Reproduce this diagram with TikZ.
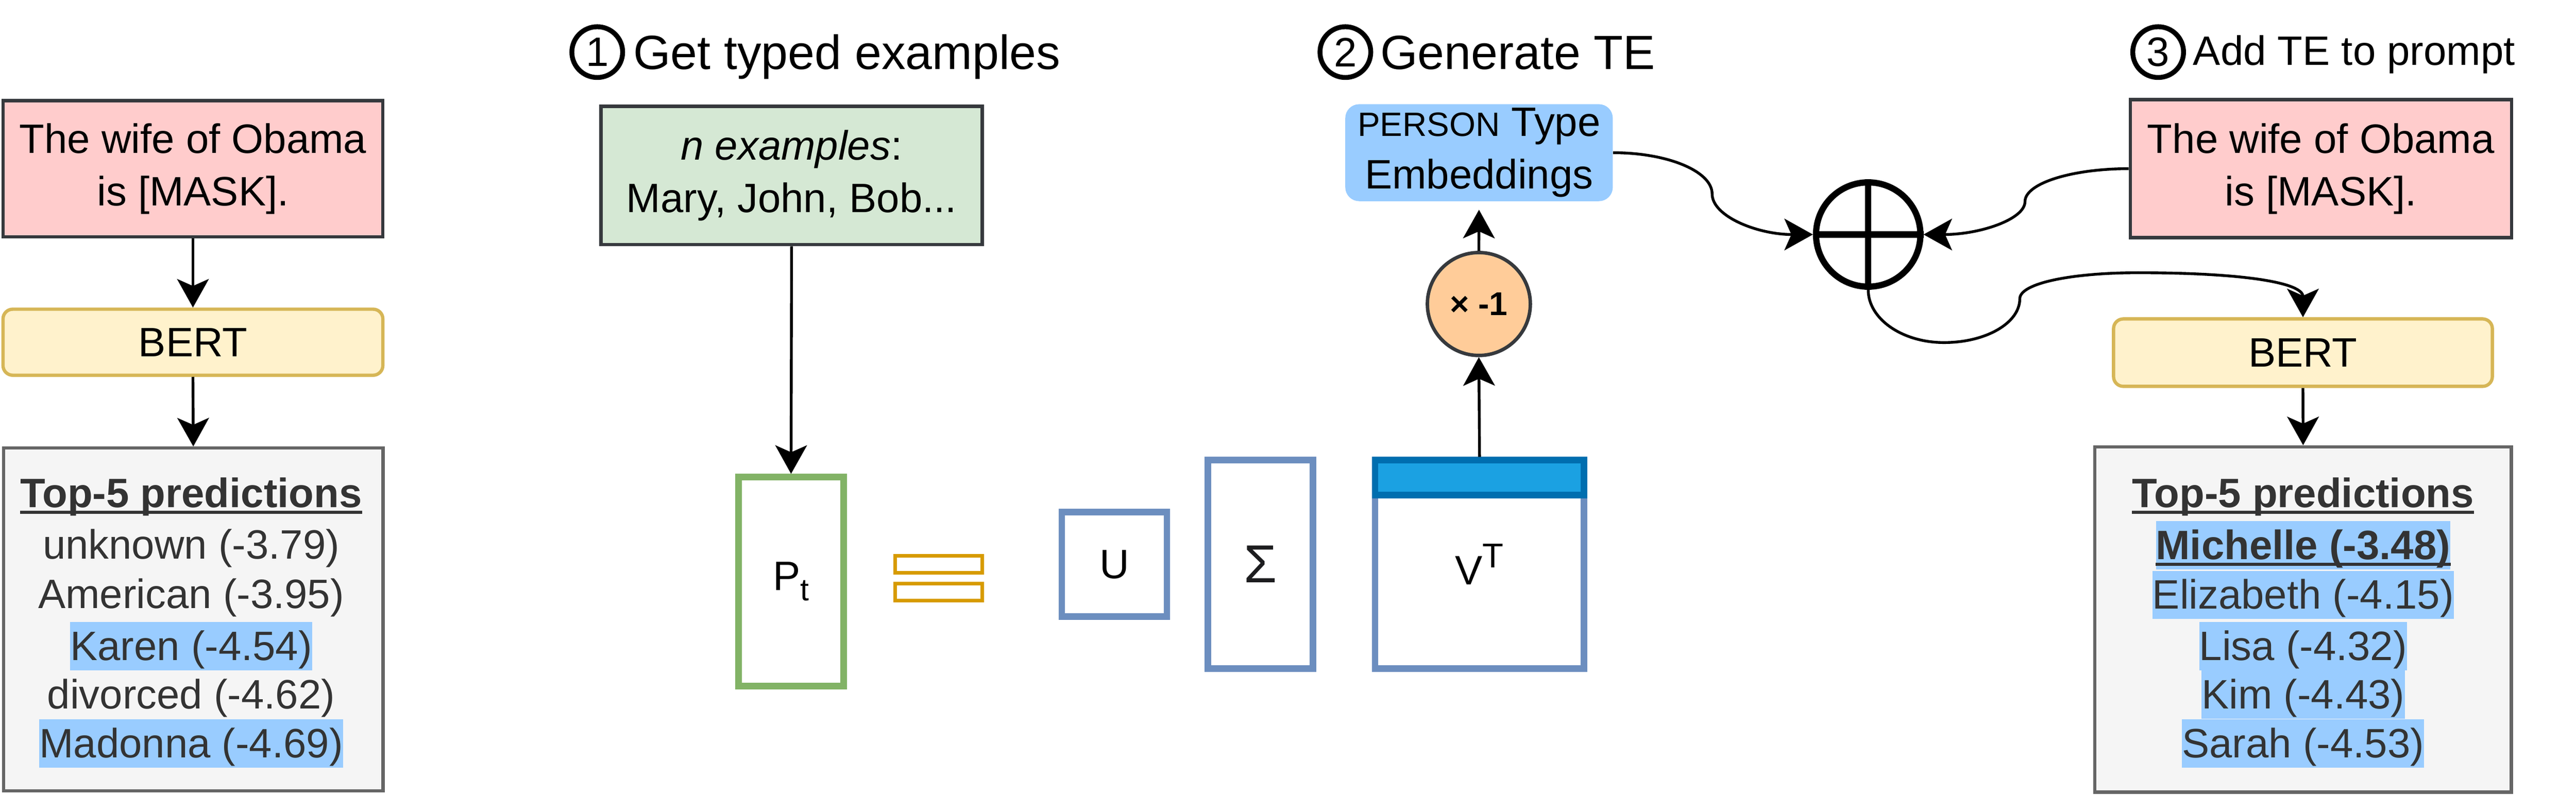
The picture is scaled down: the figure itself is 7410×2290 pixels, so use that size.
\documentclass[tikz,border=0pt]{standalone}
\usepackage{fontspec}
\setmainfont{Liberation Sans}
\usetikzlibrary{arrows.meta}
\definecolor{pinkf}{HTML}{FFCCCC}
\definecolor{dkline}{HTML}{36393D}
\definecolor{bertf}{HTML}{FFF2CC}
\definecolor{bertl}{HTML}{D6B656}
\definecolor{grayf}{HTML}{F5F5F5}
\definecolor{grayl}{HTML}{666666}
\definecolor{txtg}{HTML}{333333}
\definecolor{greenf}{HTML}{D5E8D4}
\definecolor{greenl}{HTML}{82B366}
\definecolor{orangel}{HTML}{D79B00}
\definecolor{bluel}{HTML}{6C8EBF}
\definecolor{bandf}{HTML}{1BA1E2}
\definecolor{bandl}{HTML}{006EAF}
\definecolor{hl}{HTML}{99CCFF}
\definecolor{negf}{HTML}{FFCC99}
\definecolor{sig}{HTML}{1D1D1F}
\newcommand{\fsMain}{\fontsize{33.6pt}{43pt}\selectfont}
\newcommand{\fsTitle}{\fontsize{39.3pt}{47pt}\selectfont}
\tikzset{
  box/.style={draw=dkline, line width=0.095cm, inner sep=0pt, align=center, font=\fsMain},
  prompt/.style={box, fill=pinkf, minimum width=10.92cm, minimum height=3.92cm},
  bert/.style={box, draw=bertl, fill=bertf, rounded corners=0.28cm, minimum width=10.92cm, minimum height=1.9cm},
  predbox/.style={box, draw=grayl, fill=grayf},
  pline/.style={inner sep=0pt, anchor=base, text height=1.10cm, text depth=0.29cm, text=txtg, font=\fsMain},
  hlline/.style={pline, fill=hl},
  mat/.style={draw=bluel, line width=0.19cm, fill=white, inner sep=0pt, font=\fsMain},
  conn/.style={line width=0.08cm, -{Stealth[length=0.82cm, width=0.91cm, inset=0.2cm]}},
  num/.style={circle, draw, line width=0.14cm, minimum size=1.46cm, inner sep=0pt, font=\fsMain},
  ttl/.style={anchor=base west, inner sep=0pt, font=\fsTitle},
  ulin/.style={line width=0.09cm, draw=txtg}
}
\begin{document}
\begin{tikzpicture}[x=0.01cm, y=-0.01cm]
\useasboundingbox (0,0) rectangle (7410,2290);

% ---------- left column ----------
\node[prompt] (p1) at (555,486) {The wife of Obama\\is [MASK].};
\node[bert] (b1) at (555,985) {BERT};
\node[predbox, minimum width=10.91cm, minimum height=9.86cm] (top1) at (556,1783) {};
\node[pline, font=\fsMain\bfseries] (l0) at (550,1460) {Top-5 predictions};
\node[pline] (l1) at (550,1609) {unknown (-3.79)};
\node[pline] (l2) at (550,1751) {American (-3.95)};
\node[hlline] (l3) at (550,1900) {Karen (-4.54)};
\node[pline] (l4) at (550,2040) {divorced (-4.62)};
\node[hlline] (l5) at (550,2180) {Madonna (-4.69)};
\draw[ulin] ([yshift=-0.14cm]l0.base west) -- ([yshift=-0.14cm]l0.base east);
\draw[conn] (p1.south) -- (b1.north);
\draw[conn] (b1.south) -- (top1.north);

% ---------- step 1 ----------
\node[num] (n1) at (1718,150) {1};
\node[ttl] (t1) at (1821,199) {Get typed examples};
\node[box, fill=greenf, minimum width=10.96cm, minimum height=3.98cm] (ex) at (2277,505) {\textit{n examples}:\\Mary, John, Bob...};
\node[mat, draw=greenl, minimum width=3.02cm, minimum height=6.01cm] (pt) at (2275.5,1674) {P\raisebox{-0.29cm}{\fontsize{25.6pt}{25.6pt}\selectfont t}};
\draw[conn] (ex.south) -- (pt.north);
\node[draw=orangel, line width=0.1cm, fill=white, minimum width=2.5cm, minimum height=0.49cm, inner sep=0pt] (eqa) at (2700,1624.5) {};
\node[draw=orangel, line width=0.1cm, fill=white, minimum width=2.5cm, minimum height=0.49cm, inner sep=0pt] (eqb) at (2700,1704.5) {};
\node[mat, minimum width=3.02cm, minimum height=3.0cm] (mu) at (3205.5,1624.5) {U};
\node[mat, minimum width=3.02cm, minimum height=6.0cm, font=\fontsize{43.8pt}{44pt}\selectfont, text=sig] (ms) at (3625.5,1624.5) {Σ};
\node[mat, minimum width=6.01cm, minimum height=6.0cm] (mv) at (4256,1624.5) {V\raisebox{0.48cm}{\fontsize{28.2pt}{28pt}\selectfont T}};
\node[draw=bandl, fill=bandf, line width=0.19cm, minimum width=6.01cm, minimum height=1.01cm, inner sep=0pt] (band) at (4256,1375) {};

% ---------- step 2 ----------
\node[num] (n2) at (3870,150) {2};
\node[ttl] (t2) at (3970,200) {Generate TE};
\node[fill=hl, rounded corners=0.4cm, minimum width=7.69cm, minimum height=2.79cm, inner sep=0pt, align=center, font=\fsMain] (te) at (4254.5,439.5) {{\fontsize{27.6pt}{27.6pt}\selectfont PERSON} Type\\Embeddings};
\node[circle, draw=dkline, fill=negf, line width=0.1cm, minimum size=2.96cm, inner sep=0pt, font=\fontsize{27pt}{27pt}\selectfont\bfseries] (neg) at (4254,875) {× -1};
\draw[conn] (band.north) -- (neg.south);
\draw[conn, shorten >=0.24cm] (neg.north) -- (te.south);

% ---------- step 3 ----------
\node[num] (n3) at (6208,150) {3};
\node[ttl, font=\fsMain] (t3) at (6308,187) {Add TE to prompt};
\node[circle, draw, line width=0.18cm, minimum size=3.0cm, inner sep=0pt] (op) at (5374,675) {};
\draw[line width=0.18cm] (op.north) -- (op.south);
\draw[line width=0.18cm] (op.west) -- (op.east);
\node[prompt, minimum width=10.96cm, minimum height=3.97cm] (p2) at (6676,485.5) {The wife of Obama\\is [MASK].};
\node[bert, minimum width=10.89cm, minimum height=1.94cm] (b2) at (6624.5,1015) {BERT};
\node[predbox, minimum width=11.97cm, minimum height=9.93cm] (top2) at (6625,1783) {};
\node[pline, font=\fsMain\bfseries] (r0) at (6625,1461) {Top-5 predictions};
\node[hlline, font=\fsMain\bfseries] (r1) at (6625,1610) {Michelle (-3.48)};
\node[hlline] (r2) at (6625,1753) {Elizabeth (-4.15)};
\node[hlline] (r3) at (6625,1901) {Lisa (-4.32)};
\node[hlline] (r4) at (6625,2040) {Kim (-4.43)};
\node[hlline] (r5) at (6625,2180) {Sarah (-4.53)};
\draw[ulin] ([yshift=-0.14cm]r0.base west) -- ([yshift=-0.14cm]r0.base east);
\draw[ulin] ([yshift=-0.14cm]r1.base west) -- ([yshift=-0.14cm]r1.base east);

\coordinate (m1) at (4925,558);
\draw[conn] (te.east) .. controls +(157,0) and +(0,-65) .. (m1) .. controls +(0,65) and +(-159,0) .. (op.west);
\coordinate (m2) at (5825,580);
\draw[conn] (p2.west) .. controls +(-164,0) and +(0,-52) .. (m2) .. controls +(0,52) and +(160,0) .. (op.east);
\coordinate (c1) at (5592,986);
\coordinate (c2) at (5810,860);
\coordinate (c3) at (6150,785);
\draw[conn] (op.south) .. controls +(0,84) and +(-120,0) .. (c1) .. controls +(120,0) and +(0,70) .. (c2) .. controls +(0,-45) and +(-190,0) .. (c3) .. controls +(300,0) and +(0,-100) .. (b2.north);
\draw[conn] (b2.south) -- (top2.north);
\end{tikzpicture}
\end{document}
